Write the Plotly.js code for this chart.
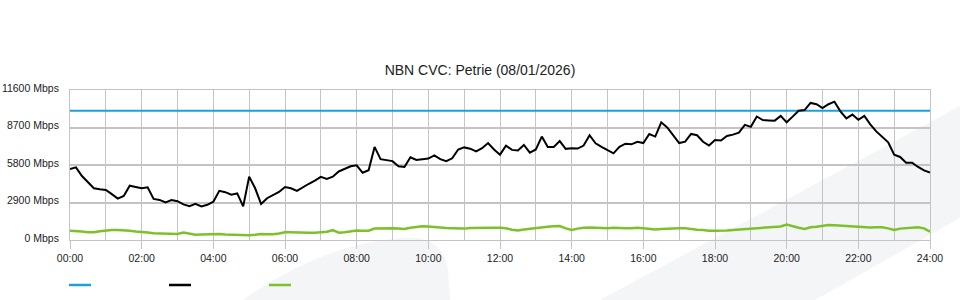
<!DOCTYPE html>
<html>
<head>
<meta charset="utf-8">
<script src="https://cdn.plot.ly/plotly-3.0.1.min.js"></script>
<style>
html,body{margin:0;padding:0;background:#fff;}
#chart{width:960px;height:300px;}
</style>
</head>
<body>
<div id="chart"></div>
<script>
// ---- data (10-minute samples, 00:00 .. 24:00) ----
const sampleMinutes = 10;
const capacityMbps = 10000;
const downloadMbps = [
  5490, 5620, 4950, 4450, 4000, 3920, 3870, 3550, 3200, 3400,
  4200, 4100, 4000, 4070, 3180, 3100, 2900, 3090, 3000, 2750,
  2620, 2800, 2600, 2720, 2960, 3800, 3700, 3500, 3600, 2600,
  4900, 4000, 2780, 3230, 3480, 3720, 4100, 4000, 3800, 4100,
  4350, 4590, 4880, 4720, 4900, 5300, 5480, 5700, 5780, 5200,
  5400, 7200, 6250, 6200, 6100, 5700, 5650, 6400, 6190, 6250,
  6300, 6550, 6250, 6100, 6320, 7000, 7160, 7060, 6850, 7100,
  7500, 7000, 6600, 7300, 6970, 6920, 7350, 6750, 7000, 8000,
  7200, 7200, 7650, 7050, 7100, 7070, 7300, 8100, 7480, 7200,
  6960, 6700, 7200, 7450, 7400, 7600, 7500, 8200, 8000, 9100,
  8700, 8100, 7500, 7600, 8200, 8100, 7600, 7300, 7730, 7700,
  8050, 8150, 8300, 8900, 8750, 9550, 9280, 9250, 9230, 9600,
  9100, 9540, 10000, 10050, 10600, 10500, 10200, 10500, 10700, 9950,
  9400, 9700, 9300, 9600, 8950, 8400, 8000, 7550, 6600, 6420,
  5980, 5980, 5650, 5380, 5210
];
const uploadMbps = [
  720, 700, 650, 600, 600, 680, 750, 770, 770, 770,
  720, 650, 640, 580, 530, 520, 500, 470, 470, 580,
  470, 400, 420, 450, 460, 460, 430, 400, 380, 340,
  360, 400, 460, 450, 440, 500, 590, 590, 570, 560,
  560, 570, 600, 640, 760, 560, 600, 680, 730, 720,
  720, 880, 900, 900, 900, 880, 850, 950, 1020, 1060,
  1050, 990, 960, 920, 900, 880, 880, 930, 950, 950,
  950, 950, 940, 900, 800, 730, 820, 880, 950, 990,
  1030, 1070, 1080, 900, 780, 880, 950, 960, 930, 930,
  900, 940, 900, 900, 900, 940, 900, 850, 820, 850,
  880, 900, 900, 900, 830, 800, 780, 720, 720, 720,
  730, 780, 820, 850, 880, 900, 960, 1000, 1030, 1050,
  1200, 1050, 950, 850, 980, 1020, 1100, 1160, 1150, 1110,
  1080, 1040, 1000, 950, 960, 980, 980, 900, 780, 880,
  900, 950, 980, 900, 640
];
const xTickVals = [0, 2, 4, 6, 8, 10, 12, 14, 16, 18, 20, 22, 24];
const xTickText = ['00:00','02:00','04:00','06:00','08:00','10:00','12:00','14:00','16:00','18:00','20:00','22:00','24:00'];
const yTickVals = [0, 2900, 5800, 8700, 11600];
const yTickText = ['0 Mbps','2900 Mbps','5800 Mbps','8700 Mbps','11600 Mbps'];

// ---- styles ----
const COL_CAP = '#1ca0da';
const COL_DOWN = '#000000';
const COL_UP = '#7cc12a';
const GRID = '#c4c4c4';
const FONT = 'Liberation Sans, Arial, Helvetica, sans-serif';

const hours = downloadMbps.map((_, i) => i * sampleMinutes / 60);

const traces = [
  {x: [xTickVals[0], xTickVals[xTickVals.length - 1]], y: [capacityMbps, capacityMbps],
   type: 'scatter', mode: 'lines', name: 'Capacity', line: {color: COL_CAP, width: 2}},
  {x: hours, y: downloadMbps, type: 'scatter', mode: 'lines', name: 'Download',
   line: {color: COL_DOWN, width: 2}},
  {x: hours, y: uploadMbps, type: 'scatter', mode: 'lines', name: 'Upload',
   line: {color: COL_UP, width: 2.5}}
];

// plot area in pixels: x 70..930, y 90..240
const L = 70, R = 930, T = 90, B = 240;
function px(x) { return ((x - L) / (R - L)).toFixed(4); }
function py(y) { return ((B - y) / (B - T)).toFixed(4); }
function path(cmds) {
  return cmds.map(c => c[0] + c.slice(1).map((v, i) => i % 2 === 0 ? px(v) : py(v)).join(',')).join(' ');
}
const BG = '#f4f5f7';
const shapes = [
  {type: 'path', xref: 'paper', yref: 'paper', layer: 'below', line: {width: 0}, fillcolor: BG,
   path: path([['M', 600, 300], ['L', 960, 106], ['L', 960, 218], ['L', 815, 300]]) + ' Z'},
  {type: 'path', xref: 'paper', yref: 'paper', layer: 'below', line: {width: 0}, fillcolor: BG,
   path: path([['M', 243, 300], ['Q', 320, 245, 400, 238], ['Q', 443, 234, 448, 270], ['L', 450, 300]]) + ' Z'}
];
// legend swatches (no text, as in the reference)
[[69, COL_CAP], [169, COL_DOWN], [269, COL_UP]].forEach(([x0, c]) => {
  shapes.push({type: 'line', xref: 'paper', yref: 'paper', x0: +px(x0), x1: +px(x0 + 22),
    y0: +py(285), y1: +py(285), line: {color: c, width: 2.5}});
});

const layout = {
  width: 960, height: 300,
  margin: {l: L, r: 960 - R, t: T, b: 300 - B, pad: 0},
  paper_bgcolor: '#ffffff', plot_bgcolor: 'rgba(0,0,0,0)',
  showlegend: false,
  font: {family: FONT, size: 10.5, color: '#222'},
  title: {text: 'NBN CVC: Petrie (08/01/2026)', x: 0.5, xref: 'container', xanchor: 'center',
    y: 1 - 70.5 / 300, yref: 'container', yanchor: 'middle',
    font: {family: FONT, size: 14, color: '#222'}},
  xaxis: {range: [0, 24], tickmode: 'array', tickvals: xTickVals, ticktext: xTickText,
    ticks: 'outside', ticklen: 8, tickcolor: GRID, tickwidth: 1,
    showgrid: true, gridcolor: GRID, gridwidth: 1,
    minor: {tickmode: 'linear', tick0: 0, dtick: 1, showgrid: true, gridcolor: GRID, gridwidth: 1, ticks: ''},
    showline: true, mirror: true, linecolor: GRID, linewidth: 1, zeroline: false,
    tickfont: {family: FONT, size: 10.5, color: '#222'}, fixedrange: true},
  yaxis: {range: [0, 11600], tickmode: 'array', tickvals: yTickVals, ticktext: yTickText,
    ticks: '', ticklabelstandoff: 8, ticklabelshift: -2,
    showgrid: true, gridcolor: GRID, gridwidth: 2,
    showline: true, mirror: true, linecolor: GRID, linewidth: 1, zeroline: false,
    tickfont: {family: FONT, size: 10.5, color: '#222'}, fixedrange: true},
  shapes: shapes
};

Plotly.newPlot('chart', traces, layout, {displayModeBar: false, staticPlot: true});
</script>
</body>
</html>
